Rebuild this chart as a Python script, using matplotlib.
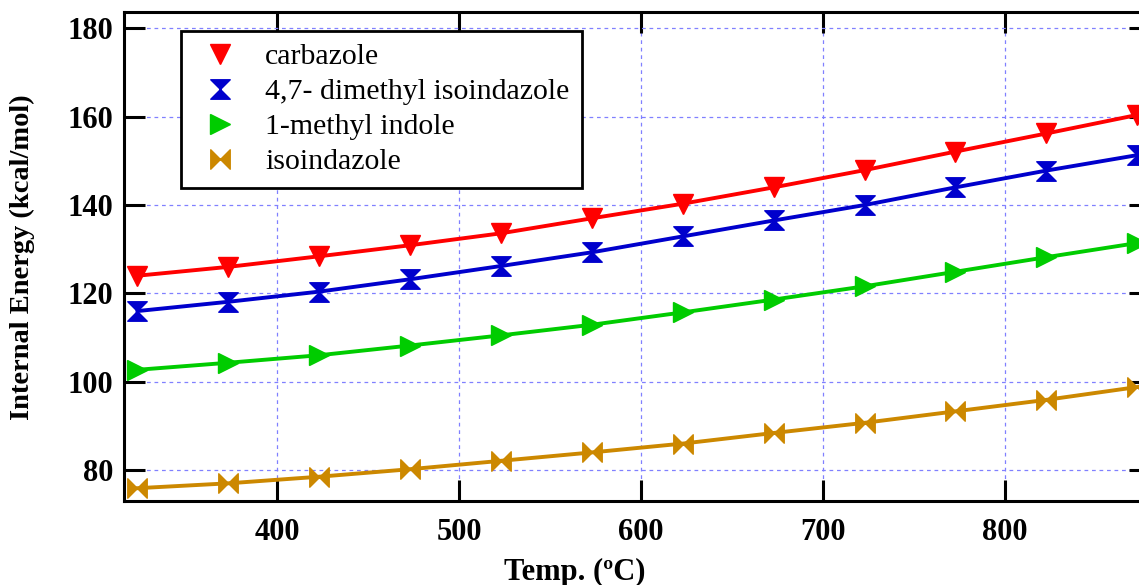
import numpy as np
import matplotlib
matplotlib.use("Agg")
import matplotlib.pyplot as plt
from matplotlib.path import Path
from matplotlib.lines import Line2D

# data
temps = [323, 373, 423, 473, 523, 573, 623, 673, 723, 773, 823, 873]
carbazole = [124.0, 126.0, 128.4, 130.9, 133.6, 137.0, 140.3, 144.0, 147.9, 152.1, 156.2, 160.4]
dimethyl_isoindazole = [116.0, 118.1, 120.4, 123.2, 126.2, 129.3, 132.9, 136.5, 140.0, 144.0, 147.8, 151.3]
methyl_indole = [102.7, 104.3, 106.0, 108.2, 110.5, 112.9, 115.7, 118.6, 121.6, 124.9, 128.2, 131.4]
isoindazole = [75.9, 77.0, 78.5, 80.2, 82.1, 84.0, 86.0, 88.4, 90.7, 93.3, 95.9, 98.8]

names = ["carbazole", "4,7- dimethyl isoindazole", "1-methyl indole", "isoindazole"]
colors = ["#ff0000", "#0000cc", "#00cc00", "#cc8800"]

# hourglass and bowtie markers
hourglass = Path([(-1, 1), (1, 1), (-1, -1), (1, -1), (-1, 1)],
                 [Path.MOVETO, Path.LINETO, Path.LINETO, Path.LINETO, Path.CLOSEPOLY])
bowtie = Path([(-1, 1), (-1, -1), (1, 1), (1, -1), (-1, 1)],
              [Path.MOVETO, Path.LINETO, Path.LINETO, Path.LINETO, Path.CLOSEPOLY])
markers = ["v", hourglass, ">", bowtie]

W, H = 1139, 585
fig = plt.figure(figsize=(W / 100, H / 100), dpi=100)
ax = fig.add_axes([124 / W, 1 - 501 / H, 1026 / W, 489 / H])

serif = "Liberation Serif"

series = [carbazole, dimethyl_isoindazole, methyl_indole, isoindazole]
handles = []
for vals, name, c, m in zip(series, names, colors, markers):
    ax.plot(temps, vals, color=c, lw=2.8, marker=m, ms=14, mec=c, mfc=c)
    handles.append(Line2D([], [], ls="none", marker=m, ms=14, color=c, label=name))

ax.set_xlim(315.6, 880)
ax.set_ylim(73.0, 183.7)
ax.set_xticks([400, 500, 600, 700, 800])
ax.set_yticks([80, 100, 120, 140, 160, 180])

ax.grid(True, color="#8080ff", ls=(0, (3, 3)), lw=0.9)
ax.set_axisbelow(True)

for s in ax.spines.values():
    s.set_linewidth(2.2)
ax.tick_params(direction="in", length=15, width=2.2, top=True, right=True)
ax.tick_params(axis="x", pad=12)
ax.tick_params(axis="y", pad=8)
for lab in ax.get_xticklabels() + ax.get_yticklabels():
    lab.set_fontfamily(serif)
    lab.set_fontweight("bold")
    lab.set_fontsize(22)

fig.text(575 / W, 1 - 572 / H, "Temp. (ºC)", ha="center", va="center",
         family=serif, weight="bold", fontsize=22)
fig.text(22 / W, 1 - 257 / H, "Internal Energy (kcal/mol)", ha="center", va="center",
         rotation=90, family=serif, weight="bold", fontsize=20.5)

leg = ax.legend(handles=handles, loc="upper left", bbox_to_anchor=(57 / 1026, 1 - 19 / 489),
                borderaxespad=0, fancybox=False, framealpha=1, edgecolor="black",
                prop={"family": serif, "size": 21.5}, handletextpad=0.6, labelspacing=0.27,
                borderpad=0.42, handlelength=1.8)
leg.get_frame().set_linewidth(2.0)

fig.savefig("out.png", dpi=100)
